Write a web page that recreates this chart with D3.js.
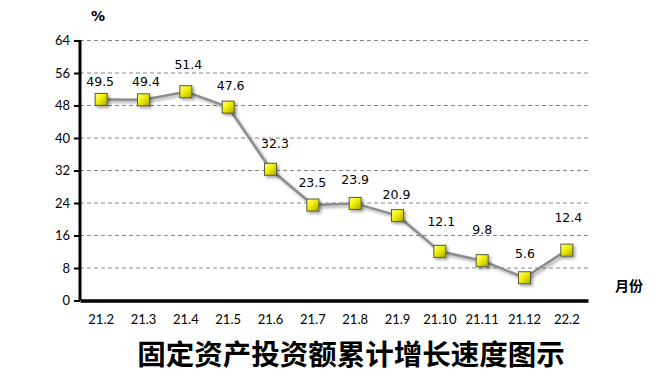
<!DOCTYPE html>
<html><head><meta charset="utf-8">
<script src="https://cdn.jsdelivr.net/npm/d3@7"></script>
<style>body{margin:0;background:#fff}svg{display:block}</style>
</head><body>
<svg id="c" width="670" height="379"></svg>
<script>
const categories = ["21.2","21.3","21.4","21.5","21.6","21.7","21.8","21.9","21.10","21.11","21.12","22.2"];
const values = [49.5,49.4,51.4,47.6,32.3,23.5,23.9,20.9,12.1,9.8,5.6,12.4];
const yTicks = [0,8,16,24,32,40,48,56,64];
const title = "固定资产投资额累计增长速度图示";

// layout only: label placement above each marker (pixels), as in the original
const labelRise = [17.5,18,27,22,26,22.5,23.5,21,29.5,31,24.5,32.5];
const labelShift = [-1,2.5,2.5,2.5,4.5,-0.5,0,-1,1.5,0,0.5,1.5];

const svg = d3.select("#c");
const x = d3.scaleBand().domain(categories).range([80, 588]);
const y = d3.scaleLinear().domain([0, 64]).range([300.5, 40.5]);
const cx = d => x(d) + x.bandwidth()/2;

const defs = svg.append("defs");
const g = defs.append("linearGradient").attr("id","mk").attr("x1","0").attr("y1","0").attr("x2","1").attr("y2","1");
g.append("stop").attr("offset","0").attr("stop-color","#ffff9a");
g.append("stop").attr("offset","0.45").attr("stop-color","#f0f000");
g.append("stop").attr("offset","1").attr("stop-color","#a8a800");
const f = defs.append("filter").attr("id","sh").attr("x","-50%").attr("y","-50%").attr("width","200%").attr("height","200%");
f.append("feDropShadow").attr("dx",2).attr("dy",2).attr("stdDeviation",1.5).attr("flood-color","#000").attr("flood-opacity",0.35);

// gridlines
svg.append("g").selectAll("line").data(yTicks.filter(t=>t>0)).join("line")
  .attr("x1",80).attr("x2",588).attr("y1",d=>y(d)).attr("y2",d=>y(d))
  .attr("stroke","#888").attr("stroke-width",1).attr("stroke-dasharray","4,3");

// y axis
const ya = svg.append("g").attr("transform","translate(80,0)")
  .call(d3.axisLeft(y).tickValues(yTicks).tickSize(6).tickPadding(4));
ya.select(".domain").attr("stroke","#000").attr("stroke-width",3).attr("d","M0,40V300.5");
ya.selectAll(".tick line").attr("stroke","#000").attr("stroke-width",2);
ya.selectAll(".tick text").attr("font-family","Lato, 'Open Sans', sans-serif").attr("font-size",13).attr("fill","#000");

// x axis
const xa = svg.append("g").attr("transform","translate(0,300.5)")
  .call(d3.axisBottom(x).tickSize(0).tickPadding(14));
xa.select(".domain").attr("stroke","#000").attr("stroke-width",3.5);
xa.selectAll(".tick text").attr("font-family","Lato, 'Open Sans', sans-serif").attr("font-size",13).attr("fill","#000");

// line
const line = d3.line().x((d,i)=>cx(categories[i])).y(d=>y(d));
svg.append("path").datum(values).attr("d",line).attr("fill","none")
  .attr("stroke","#8c8c8c").attr("stroke-width",2.5).attr("filter","url(#sh)");

// markers
svg.append("g").selectAll("rect").data(values).join("rect")
  .attr("x",(d,i)=>cx(categories[i])-6).attr("y",d=>y(d)-6)
  .attr("width",12).attr("height",12)
  .attr("fill","url(#mk)").attr("stroke","#5a5a3c").attr("stroke-width",1)
  .attr("filter","url(#sh)");

// labels
svg.append("g").selectAll("text").data(values).join("text")
  .attr("x",(d,i)=>cx(categories[i]) + labelShift[i])
  .attr("y",(d,i)=>y(d) - labelRise[i] + 4.5)
  .attr("text-anchor","middle").attr("font-family","'DejaVu Sans', Verdana, sans-serif")
  .attr("font-size",12.5).attr("fill","#000").text(d=>d);

svg.append("text").attr("x",98).attr("y",21).attr("text-anchor","middle")
  .attr("font-family","'DejaVu Sans', sans-serif").attr("font-weight","bold").attr("font-size",14).text("%");
svg.append("text").attr("x",629).attr("y",291).attr("text-anchor","middle")
  .attr("font-family","'Noto Sans CJK SC', sans-serif").attr("font-weight","bold").attr("font-size",14).text("月份");
svg.append("text").attr("x",351).attr("y",365).attr("text-anchor","middle")
  .attr("font-family","'Noto Sans CJK SC', sans-serif").attr("font-weight","bold").attr("font-size",28.5).text(title);
</script>
</body></html>
